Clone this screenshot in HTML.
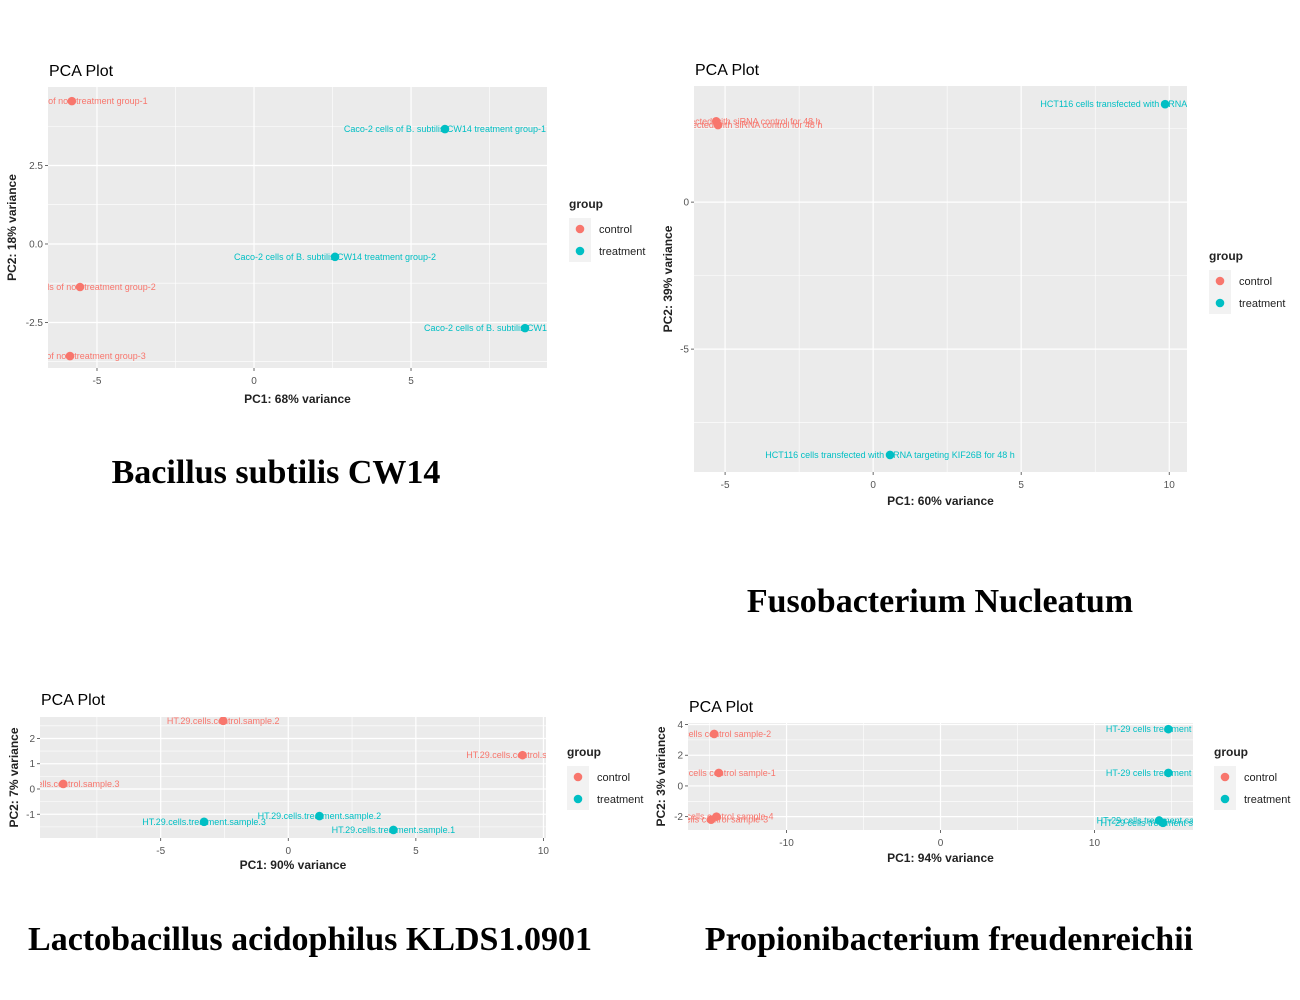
<!DOCTYPE html>
<html><head><meta charset="utf-8">
<style>
html,body{margin:0;padding:0;background:#fff;}
svg{display:block;}
.cap{font-family:"Liberation Serif",serif;font-weight:bold;font-size:34px;fill:#000;}
</style></head>
<body>
<svg id="fig" width="1300" height="1000" xmlns="http://www.w3.org/2000/svg">
<rect width="1300" height="1000" fill="#fff"/>
<text class="cap" x="276" y="483" text-anchor="middle">Bacillus subtilis CW14</text>
<text class="cap" x="940" y="612" text-anchor="middle">Fusobacterium Nucleatum</text>
<text class="cap" x="310" y="950" text-anchor="middle">Lactobacillus acidophilus KLDS1.0901</text>
<text class="cap" x="949" y="950" text-anchor="middle">Propionibacterium freudenreichii</text>
</svg>
<script>
// ---- Panel 1 data: Bacillus subtilis CW14 ----
const p1X = [-5.8, 6.08, 2.58, -5.54, 8.63, -5.86];
const p1Y = [4.55, 3.66, -0.41, -1.37, -2.68, -3.57];
const p1Group = ["control","treatment","treatment","control","treatment","control"];
const p1Labels = ["Caco-2 cells of non-treatment group-1","Caco-2 cells of B. subtilis CW14 treatment group-1","Caco-2 cells of B. subtilis CW14 treatment group-2","Caco-2 cells of non-treatment group-2","Caco-2 cells of B. subtilis CW14 treatment group-3","Caco-2 cells of non-treatment group-3"];
const p1XTicks = [-5, 0, 5];
const p1YTicks = [-2.5, 0, 2.5];
const p1YTickLabels = ["-2.5","0.0","2.5"];
// ---- Panel 2 data: Fusobacterium Nucleatum ----
const p2X = [-5.3, -5.24, 9.86, 0.57];
const p2Y = [2.75, 2.62, 3.33, -8.6];
const p2Group = ["control","control","treatment","treatment"];
const p2Labels = ["HCT116 cells transfected with siRNA control for 48 h","HCT116 cells transfected with siRNA control for 48 h","HCT116 cells transfected with siRNA targeting KIF26B for 48 h","HCT116 cells transfected with siRNA targeting KIF26B for 48 h"];
const p2XTicks = [-5, 0, 5, 10];
const p2YTicks = [-5, 0];
const p2YTickLabels = ["-5","0"];
// ---- Panel 3 data: Lactobacillus acidophilus ----
const p3X = [-2.55, 9.18, -8.82, -3.3, 1.22, 4.12];
const p3Y = [2.7, 1.34, 0.2, -1.3, -1.07, -1.62];
const p3Group = ["control","control","control","treatment","treatment","treatment"];
const p3Labels = ["HT.29.cells.control.sample.2","HT.29.cells.control.sample.1","HT.29.cells.control.sample.3","HT.29.cells.treatment.sample.3","HT.29.cells.treatment.sample.2","HT.29.cells.treatment.sample.1"];
const p3XTicks = [-5, 0, 5, 10];
const p3YTicks = [-1, 0, 1, 2];
const p3YTickLabels = ["-1","0","1","2"];
// ---- Panel 4 data: Propionibacterium freudenreichii ----
const p4X = [-14.7, -14.4, -14.55, -14.9, 14.8, 14.8, 14.2, 14.45];
const p4Y = [3.39, 0.85, -2.0, -2.2, 3.7, 0.85, -2.25, -2.4];
const p4Group = ["control","control","control","control","treatment","treatment","treatment","treatment"];
const p4Labels = ["HT-29 cells control sample-2","HT-29 cells control sample-1","HT-29 cells control sample-4","HT-29 cells control sample-3","HT-29 cells treatment sample-1","HT-29 cells treatment sample-2","HT-29 cells treatment sample-3","HT-29 cells treatment sample-4"];
const p4XTicks = [-10, 0, 10];
const p4YTicks = [-2, 0, 2, 4];
const p4YTickLabels = ["-2","0","2","4"];

const NS = "http://www.w3.org/2000/svg";
const svg = document.getElementById("fig");
const COL = {control:"#F8766D", treatment:"#00BFC4"};
function mk(tag, attrs, parent){
  const e = document.createElementNS(NS, tag);
  for (const k in attrs) e.setAttribute(k, attrs[k]);
  (parent||svg).appendChild(e);
  return e;
}
function panel(cfg){
  const g = mk("g", {});
  
  
  const {x0,x1,y0,y1,xd,yd} = cfg;
  const sx = v => x0 + (v - xd[0]) / (xd[1] - xd[0]) * (x1 - x0);
  const sy = v => y1 - (v - yd[0]) / (yd[1] - yd[0]) * (y1 - y0);
  const t = mk("text", {x: x0+1, y: cfg.titleY, "font-family":"Liberation Sans, sans-serif", "font-size":16, fill:"#000"}, g);
  t.textContent = "PCA Plot";
  
  
  const bg = mk("rect", {x:x0, y:y0, width:x1-x0, height:y1-y0, fill:"#EBEBEB"}, g);
  
  
  const cid = cfg.name + "-clip";
  const cp = mk("clipPath", {id: cid}, g);
  mk("rect", {x:x0, y:y0, width:x1-x0, height:y1-y0}, cp);
  const xs = cfg.xTicks, ys = cfg.yTicks;
  const xstep = xs[1]-xs[0], ystep = ys[1]-ys[0];
  for (let v = xs[0]-xstep*3 + xstep/2; v < xd[1]; v += xstep) {
    if (v <= xd[0]) continue;
    mk("line", {x1:sx(v), x2:sx(v), y1:y0, y2:y1, stroke:"#fff", "stroke-width":0.6}, g);
  }
  for (let v = ys[0]-ystep*3 + ystep/2; v < yd[1]; v += ystep) {
    if (v <= yd[0]) continue;
    mk("line", {x1:x0, x2:x1, y1:sy(v), y2:sy(v), stroke:"#fff", "stroke-width":0.6}, g);
  }
  xs.forEach(v => {
    mk("line", {x1:sx(v), x2:sx(v), y1:y0, y2:y1, stroke:"#fff", "stroke-width":1.2}, g);
    mk("line", {x1:sx(v), x2:sx(v), y1:y1, y2:y1+3, stroke:"#444", "stroke-width":0.8}, g);
    const tl = mk("text", {x:sx(v), y:y1+16, "text-anchor":"middle", "font-family":"Liberation Sans, sans-serif", "font-size":10, fill:"#555"}, g);
    tl.textContent = String(v);
    
    
  });
  ys.forEach((v,i) => {
    mk("line", {x1:x0, x2:x1, y1:sy(v), y2:sy(v), stroke:"#fff", "stroke-width":1.2}, g);
    mk("line", {x1:x0-3, x2:x0, y1:sy(v), y2:sy(v), stroke:"#444", "stroke-width":0.8}, g);
    const tl = mk("text", {x:x0-5, y:sy(v)+3.5, "text-anchor":"end", "font-family":"Liberation Sans, sans-serif", "font-size":10, fill:"#555"}, g);
    tl.textContent = cfg.yTickLabels[i];
    
    
  });
  const cg = mk("g", {"clip-path": "url(#"+cid+")"}, g);
  cfg.X.forEach((xv,i) => {
    const c = mk("circle", {cx:sx(xv), cy:sy(cfg.Y[i]), r:4.3, fill:COL[cfg.G[i]]}, cg);
    
    
  });
  cfg.X.forEach((xv,i) => {
    const l = mk("text", {x:sx(xv), y:sy(cfg.Y[i])+3, "text-anchor":"middle", "font-family":"Liberation Sans, sans-serif", "font-size":9, fill:COL[cfg.G[i]]}, cg);
    l.textContent = cfg.L[i];
    
    
  });
  const xt = mk("text", {x:(x0+x1)/2, y:cfg.xTitleY, "text-anchor":"middle", "font-family":"Liberation Sans, sans-serif", "font-size":12, "font-weight":"bold", fill:"#222"}, g);
  xt.textContent = cfg.xTitle;
  
  
  const yt = mk("text", {x:0, y:0, transform:"translate("+cfg.yTitleX+","+((y0+y1)/2)+") rotate(-90)", "text-anchor":"middle", "font-family":"Liberation Sans, sans-serif", "font-size":12, "font-weight":"bold", fill:"#222"}, g);
  yt.textContent = cfg.yTitle;
  
  
  const lx = cfg.legX, ly = cfg.legY;
  const lg = mk("g", {}, g);
  
  
  const lt = mk("text", {x:lx, y:ly, "font-family":"Liberation Sans, sans-serif", "font-size":12, "font-weight":"bold", fill:"#222"}, lg);
  lt.textContent = "group";
  mk("rect", {x:lx, y:ly+10, width:22, height:44, fill:"#F2F2F2"}, lg);
  ["control","treatment"].forEach((k,i) => {
    const e = mk("g", {}, lg);
    
    
    mk("circle", {cx:lx+11, cy:ly+21+i*22, r:4.3, fill:COL[k]}, e);
    const tx = mk("text", {x:lx+30, y:ly+25+i*22, "font-family":"Liberation Sans, sans-serif", "font-size":11, fill:"#222"}, e);
    tx.textContent = k;
  });
}
panel({name:"pca-bacillus", x0:48, x1:547, y0:87, y1:368, xd:[-6.56,9.33], yd:[-3.95,5.0], titleY:76,
  X:p1X, Y:p1Y, G:p1Group, L:p1Labels, xTicks:p1XTicks, yTicks:p1YTicks, yTickLabels:p1YTickLabels,
  xTitle:"PC1: 68% variance", yTitle:"PC2: 18% variance", xTitleY:403, yTitleX:16, legX:569, legY:208});
panel({name:"pca-fusobacterium", x0:694, x1:1187, y0:86, y1:472, xd:[-6.05,10.6], yd:[-9.18,3.95], titleY:75,
  X:p2X, Y:p2Y, G:p2Group, L:p2Labels, xTicks:p2XTicks, yTicks:p2YTicks, yTickLabels:p2YTickLabels,
  xTitle:"PC1: 60% variance", yTitle:"PC2: 39% variance", xTitleY:505, yTitleX:672, legX:1209, legY:260});
panel({name:"pca-lactobacillus", x0:40, x1:546, y0:717, y1:838, xd:[-9.73,10.1], yd:[-1.94,2.85], titleY:705,
  X:p3X, Y:p3Y, G:p3Group, L:p3Labels, xTicks:p3XTicks, yTicks:p3YTicks, yTickLabels:p3YTickLabels,
  xTitle:"PC1: 90% variance", yTitle:"PC2: 7% variance", xTitleY:869, yTitleX:18, legX:567, legY:756});
panel({name:"pca-propionibacterium", x0:688, x1:1193, y0:723, y1:830, xd:[-16.4,16.4], yd:[-2.87,4.1], titleY:712,
  X:p4X, Y:p4Y, G:p4Group, L:p4Labels, xTicks:p4XTicks, yTicks:p4YTicks, yTickLabels:p4YTickLabels,
  xTitle:"PC1: 94% variance", yTitle:"PC2: 3% variance", xTitleY:862, yTitleX:665, legX:1214, legY:756});
</script>
</body></html>
